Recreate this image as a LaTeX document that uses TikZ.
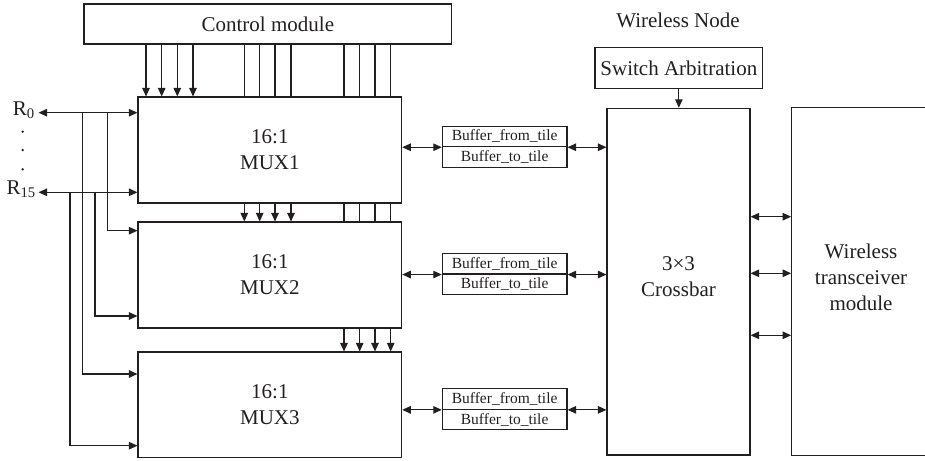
\documentclass[tikz,border=0pt]{standalone}
\usepackage{fontspec}
\setmainfont{Liberation Serif}
\usetikzlibrary{arrows.meta}
\definecolor{ink}{RGB}{35,31,32}
\begin{document}
\begin{tikzpicture}[x=1pt,y=-1pt,
  box/.style={draw=ink, line width=1.1pt, rectangle, inner sep=0pt, align=center, font=\fontsize{21}{26}\selectfont, text=ink},
  bufbox/.style={draw=ink, line width=1.1pt, rectangle, inner sep=0pt, minimum width=124.7pt, minimum height=20.5pt, font=\fontsize{15.5}{18}\selectfont, text=ink},
  wire/.style={draw=ink, line width=1.1pt},
  arr/.style={wire, -{Triangle[length=8.5pt,width=7.5pt]}},
  arrs/.style={wire, {Triangle[length=8.5pt,width=7.5pt]}-{Triangle[length=8.5pt,width=7.5pt]}},
  lbl/.style={inner sep=0pt, align=center, font=\fontsize{21}{26}\selectfont, text=ink}]
\useasboundingbox (0,0) rectangle (925,460);

% main boxes
\node[box, minimum width=367.7pt, minimum height=40pt] (ctrl) at (267.85,24) {Control module};
\node[box, minimum width=263.7pt, minimum height=106pt] (mux1) at (269.85,150) {16:1\\MUX1};
\node[box, minimum width=263.7pt, minimum height=106pt] (mux2) at (269.85,275) {16:1\\MUX2};
\node[box, minimum width=263.7pt, minimum height=105.7pt] (mux3) at (269.85,404.85) {16:1\\MUX3};

% buffers
\node[bufbox] (b1f) at (504.65,136.45) {Buffer\_from\_tile};
\node[bufbox] (b1t) at (504.65,156.95) {Buffer\_to\_tile};
\node[bufbox] (b2f) at (504.65,263.75) {Buffer\_from\_tile};
\node[bufbox] (b2t) at (504.65,284.25) {Buffer\_to\_tile};
\node[bufbox] (b3f) at (504.65,399.05) {Buffer\_from\_tile};
\node[bufbox] (b3t) at (504.65,419.55) {Buffer\_to\_tile};

% wireless node
\node[lbl] (wn) at (678,20.7) {Wireless Node};
\node[box, minimum width=167.7pt, minimum height=40.6pt] (sw) at (678.85,68) {Switch Arbitration};
\node[box, minimum width=143pt, minimum height=346.7pt] (xbar) at (678.5,281.65) {};
\node[lbl] (xbartxt) at (678.5,277) {3×3\\Crossbar};
% transceiver box runs off the right edge of the picture
\node[box, draw=none, minimum width=188.3pt, minimum height=346.7pt] (trx) at (885.85,281.65) {};
\draw[wire] (trx.north east) -- (trx.north west) -- (trx.south west) -- (trx.south east);
\node[lbl] (trxtxt) at (861,277.5) {Wireless\\transceiver\\module};

% control lines
\foreach \x in {146,161.7,177.3,193}
  \draw[arr] (ctrl.south -| \x,0) -- (mux1.north -| \x,0);
\foreach \x in {244.3,259.7,275,291}{
  \draw[wire] (ctrl.south -| \x,0) -- (mux1.north -| \x,0);
  \draw[arr] (mux1.south -| \x,0) -- (mux2.north -| \x,0);
}
\foreach \x in {344,359.7,375,390.7}{
  \draw[wire] (ctrl.south -| \x,0) -- (mux1.north -| \x,0);
  \draw[wire] (mux1.south -| \x,0) -- (mux2.north -| \x,0);
  \draw[arr] (mux2.south -| \x,0) -- (mux3.north -| \x,0);
}

% inputs R0 .. R15
\node[lbl, anchor=east] (r0lbl) at (35,110.5) {R\textsubscript{0}};
\node[lbl, anchor=east] (r15lbl) at (36,189.5) {R\textsubscript{15}};
\fill[ink] (22.7,131.7) circle[radius=1.3pt];
\fill[ink] (22.7,150) circle[radius=1.3pt];
\fill[ink] (22.7,169.3) circle[radius=1.3pt];
\coordinate (r0p) at (38.5,112.7);
\coordinate (r15p) at (38.5,192.3);
\draw[arrs] (r0p) -- (r0p -| mux1.west);
\draw[arrs] (r15p) -- (r15p -| mux1.west);
\coordinate (ja) at (107.3,112.7);
\coordinate (jb) at (82.3,112.7);
\coordinate (jc) at (95,192.3);
\coordinate (jd) at (70,192.3);
\draw[arr] (ja) |- (mux2.west |- 0,230.7);
\draw[arr] (jc) |- (mux2.west |- 0,316);
\draw[arr] (jb) |- (mux3.west |- 0,374);
\draw[arr] (jd) |- (mux3.west |- 0,445.7);

% buffer links
\draw[arrs] (mux1.east |- b1f.south west) -- (b1f.south west);
\draw[arrs] (b1f.south east) -- (b1f.south east -| xbar.west);
\draw[arrs] (mux2.east |- b2f.south west) -- (b2f.south west);
\draw[arrs] (b2f.south east) -- (b2f.south east -| xbar.west);
\draw[arrs] (mux3.east |- b3f.south west) -- (b3f.south west);
\draw[arrs] (b3f.south east) -- (b3f.south east -| xbar.west);

% switch and crossbar links
\draw[arr] (sw.south) -- (sw.south |- xbar.north);
\foreach \y in {216.7,273.3,335.3}
  \draw[arrs] (xbar.east |- 0,\y) -- (trx.west |- 0,\y);
\end{tikzpicture}
\end{document}
